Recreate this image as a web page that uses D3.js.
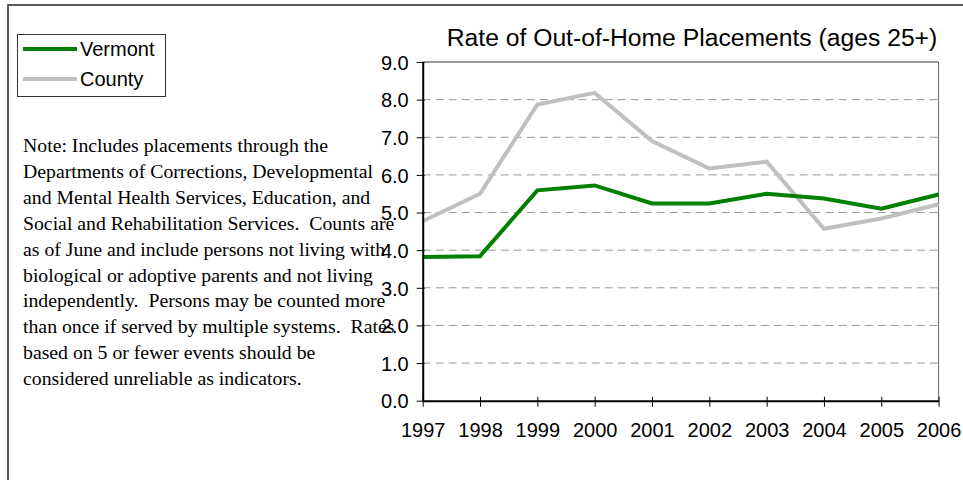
<!DOCTYPE html>
<html>
<head>
<meta charset="utf-8">
<script src="https://cdn.jsdelivr.net/npm/d3@7"></script>
<style>
  html, body { margin: 0; padding: 0; background: #fff; }
  svg { display: block; }
  .note { white-space: pre; }
</style>
</head>
<body>
<svg id="chart" width="963" height="480"></svg>
<script>
const years = ["1997","1998","1999","2000","2001","2002","2003","2004","2005","2006"];
const vermont = [3.82, 3.84, 5.59, 5.72, 5.24, 5.24, 5.50, 5.37, 5.10, 5.48];
const county  = [4.77, 5.50, 7.87, 8.18, 6.90, 6.17, 6.35, 4.57, 4.84, 5.22];
const yTicks = [0, 1, 2, 3, 4, 5, 6, 7, 8, 9];
const seriesNames = ["Vermont", "County"];
const titleText = "Rate of Out-of-Home Placements (ages 25+)";
const noteLines = [
  "Note: Includes placements through the",
  "Departments of Corrections, Developmental",
  "and Mental Health Services, Education, and",
  "Social and Rehabilitation Services.  Counts are",
  "as of June and include persons not living with",
  "biological or adoptive parents and not living",
  "independently.  Persons may be counted more",
  "than once if served by multiple systems.  Rates",
  "based on 5 or fewer events should be",
  "considered unreliable as indicators."
];

(function () {
const colors = { Vermont: "#008000", County: "#C0C0C0" };
const svg = d3.select("#chart");

// outer frame
svg.append("rect").attr("x", 8).attr("y", 5).attr("width", 970).attr("height", 490)
  .attr("fill", "none").attr("stroke", "#333").attr("stroke-width", 1.6);

const pLeft = 422.7, pRight = 938.6, pTop = 62, pBottom = 400.7;
const x = d3.scalePoint().domain(years).range([pLeft, pRight]);
const y = d3.scaleLinear().domain([0, 9]).range([pBottom, pTop]);

// gridlines
svg.append("g").selectAll("line").data(yTicks.filter(d => d > 0 && d < 9)).join("line")
  .attr("x1", pLeft).attr("x2", pRight)
  .attr("y1", d => y(d)).attr("y2", d => y(d))
  .attr("stroke", "#999").attr("stroke-width", 1).attr("stroke-dasharray", "8,5");

// plot frame top & right
svg.append("line").attr("x1", pLeft).attr("x2", pRight).attr("y1", y(9)).attr("y2", y(9))
  .attr("stroke", "#333").attr("stroke-width", 1);
svg.append("line").attr("x1", pRight).attr("x2", pRight).attr("y1", y(9)).attr("y2", pBottom)
  .attr("stroke", "#666").attr("stroke-width", 1);

// lines
const line = d3.line().x((d, i) => x(years[i])).y(d => y(d));
[["County", county], ["Vermont", vermont]].forEach(([name, vals]) => {
  svg.append("path").datum(vals).attr("d", line)
    .attr("fill", "none").attr("stroke", colors[name]).attr("stroke-width", 4)
    .attr("stroke-linejoin", "miter");
});

// note text
const note = svg.append("text").attr("class", "note")
  .attr("xml:space", "preserve")
  .attr("font-family", "'Liberation Serif', 'Times New Roman', serif")
  .attr("font-size", 19.75).attr("fill", "#000");
noteLines.forEach((t, i) => {
  note.append("tspan").attr("x", 23).attr("y", 152.3 + i * 25.85).text(t);
});

// y axis
const yAxis = d3.axisLeft(y).tickValues(yTicks).tickFormat(d3.format(".1f"))
  .tickSizeInner(6).tickSizeOuter(0);
const gy = svg.append("g").attr("transform", `translate(${pLeft},0)`).call(yAxis);
gy.select(".domain").attr("stroke", "#000").attr("stroke-width", 2);
gy.selectAll(".tick line").attr("stroke", "#000").attr("x2", -6).attr("x1", 2);
gy.selectAll(".tick text").attr("x", -14).attr("dy", "0.36em")
  .attr("font-family", "Arial, 'Liberation Sans', sans-serif").attr("font-size", 20).attr("fill", "#000");

// x axis
const xAxis = d3.axisBottom(x).tickSizeInner(6).tickSizeOuter(0);
const gx = svg.append("g").attr("transform", `translate(0,${pBottom})`).call(xAxis);
gx.select(".domain").attr("stroke", "#000").attr("stroke-width", 2);
gx.selectAll(".tick line").attr("stroke", "#000").attr("y1", -4).attr("y2", 6);
gx.selectAll(".tick text").attr("y", 36).attr("dy", 0)
  .attr("font-family", "Arial, 'Liberation Sans', sans-serif").attr("font-size", 20).attr("fill", "#000");

// title
svg.append("text").attr("x", 692).attr("y", 46).attr("text-anchor", "middle")
  .attr("font-family", "Arial, 'Liberation Sans', sans-serif").attr("font-size", 24.7).attr("fill", "#000")
  .text(titleText);

// legend
const lg = svg.append("g");
lg.append("rect").attr("x", 17.5).attr("y", 34.5).attr("width", 148).attr("height", 62)
  .attr("fill", "#fff").attr("stroke", "#333").attr("stroke-width", 1);
seriesNames.forEach((n, i) => {
  const yy = 49 + i * 30;
  lg.append("line").attr("x1", 23).attr("x2", 77).attr("y1", yy).attr("y2", yy)
    .attr("stroke", colors[n]).attr("stroke-width", 4);
  lg.append("text").attr("x", 80).attr("y", yy + 7)
    .attr("font-family", "Arial, 'Liberation Sans', sans-serif").attr("font-size", 20).attr("fill", "#000")
    .text(n);
});
})();
</script>
</body>
</html>
